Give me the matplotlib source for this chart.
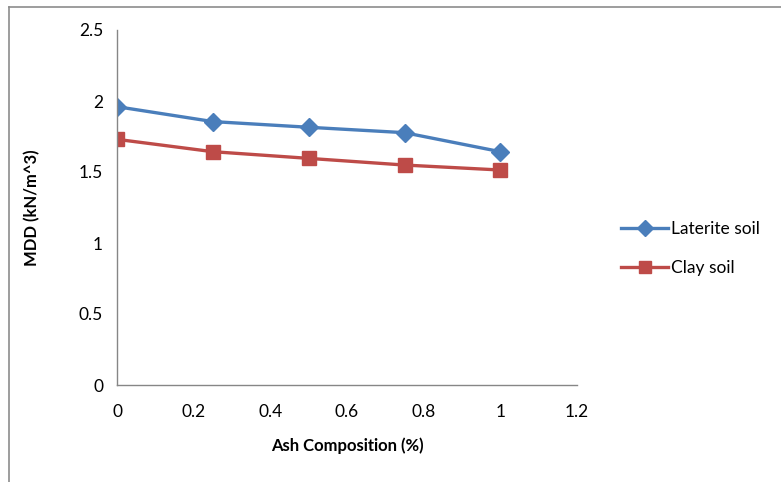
import matplotlib.pyplot as plt
from matplotlib.lines import Line2D

# datos
ash = [0, 0.25, 0.5, 0.75, 1.0]
laterite = [1.96, 1.855, 1.815, 1.777, 1.643]
clay = [1.73, 1.643, 1.596, 1.549, 1.514]

plt.rcParams['font.family'] = ['Lato', 'DejaVu Sans']

fig = plt.figure(figsize=(7.81, 4.82), dpi=100)
ax = fig.add_axes([117 / 781, 1 - 385 / 482, 460 / 781, 355 / 482])

ax.plot(ash, laterite, color='#4A7EBB', lw=2.4, marker='D', ms=9,
        label='Laterite soil')
ax.plot(ash, clay, color='#BE4B48', lw=2.4, marker='s', ms=10,
        label='Clay soil')

ax.set_xlim(0, 1.2)
ax.set_ylim(0, 2.5)
ax.set_xticks([0, 0.2, 0.4, 0.6, 0.8, 1, 1.2])
ax.set_xticklabels(['0', '0.2', '0.4', '0.6', '0.8', '1', '1.2'])
ax.set_yticks([0, 0.5, 1, 1.5, 2, 2.5])
ax.set_yticklabels(['0', '0.5', '1', '1.5', '2', '2.5'])
ax.tick_params(length=0, labelsize=12.5, colors='#000000')
ax.tick_params(axis='x', pad=14)
ax.tick_params(axis='y', pad=10)
for s in ['top', 'right']:
    ax.spines[s].set_visible(False)
for s in ['left', 'bottom']:
    ax.spines[s].set_color('#868686')
    ax.spines[s].set_linewidth(1)

ax.set_xlabel('Ash Composition (%)', fontsize=12, fontweight='bold', labelpad=12)
ax.set_ylabel('MDD (kN/m^3)', fontsize=12, fontweight='bold', labelpad=28)

ax.legend(loc='center left', bbox_to_anchor=(1.062, 0.385), frameon=False,
          fontsize=12.5, handlelength=2.7, handletextpad=0.2, labelspacing=1.3,
          markerscale=0.85)

# borde del grafico
fig.add_artist(Line2D([9 / 781, 1], [1 - 7 / 482, 1 - 7 / 482], color='#8c8c8c', lw=1.2))
fig.add_artist(Line2D([9 / 781, 9 / 781], [0, 1 - 7 / 482], color='#8c8c8c', lw=1.2))

fig.savefig('out.png', dpi=100)
